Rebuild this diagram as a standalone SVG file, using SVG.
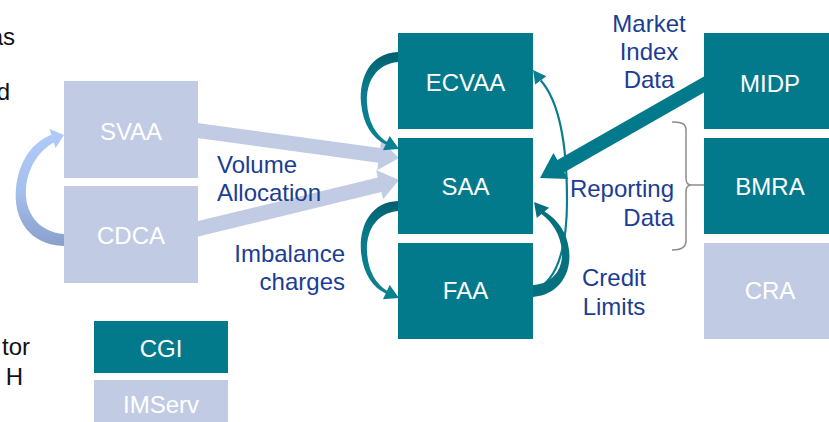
<svg xmlns="http://www.w3.org/2000/svg" width="829" height="422" viewBox="0 0 829 422">
<style>
.teal{fill:#037A8B}
.light{fill:#C1CCE4}
.bl{font-family:"Liberation Sans",Arial,sans-serif;font-size:24px;fill:#FFFFFF;text-anchor:middle}
.lab{font-family:"Liberation Sans",Arial,sans-serif;font-size:24px;fill:#1B3D92}
.cut{font-family:"Liberation Sans",Arial,sans-serif;font-size:24px;fill:#111111;text-anchor:end}
.ca{fill:url(#tealg)}
</style>
<defs>
<linearGradient id="tealg" x1="0" y1="0" x2="0" y2="1">
<stop offset="0" stop-color="#005F6E"/>
<stop offset="0.35" stop-color="#0A7A8B"/>
<stop offset="1" stop-color="#0A8191"/>
</linearGradient>
<linearGradient id="blueg" gradientUnits="userSpaceOnUse" x1="0" y1="128" x2="0" y2="246">
<stop offset="0" stop-color="#AFCBFA"/>
<stop offset="0.5" stop-color="#A7C1EE"/>
<stop offset="1" stop-color="#8A9FCC"/>
</linearGradient>
</defs>
<g id="connectors">
<path fill="url(#blueg)" d="M64,246 C30,245 13,220 16,188 C19,160 33,142 51.35,134.8 L49.55,129.1 L64,135 L55.55,148.1 L53.75,142.4 C40,150 28,166 26,188 C24,212 38,232 64,234 Z"/>
<polygon class="light" points="188.1,121.7 380.2,147.9 381.2,140.4 399,158 377.2,170.2 378.2,162.7 186.1,136.6"/>
<polygon class="light" points="185.5,224.1 377.8,177.4 376.1,170.1 399,180 383.1,199.3 381.4,192.0 189.1,238.7"/>
<path class="ca" d="M398,52 C370,53 359,78 361,103 C363,124 372,138 385.7,144.5 L382.9,150.3 L399,149 L389.7,135.9 L386.9,141.7 C376,135 368,122 367,103 C366,82 376,64 398,62 Z"/>
<path class="ca" transform="translate(0,149)" d="M398,52 C370,53 359,78 361,103 C363,124 372,138 385.7,144.5 L382.9,150.3 L399,149 L389.7,135.9 L386.9,141.7 C376,135 368,122 367,103 C366,82 376,64 398,62 Z"/>
<path fill="none" stroke="#0A7D8E" stroke-width="2.2" d="M533,291 C557,282 567,250 567,200 C567,140 558,100 540.8,80.4"/>
<polygon fill="#0A7D8E" points="533,70 546.4,76.2 535.2,84.6"/>
<path fill="#06707F" d="M533,297 C560,295 572,272 569,250 C567,232 558,220 544.5,211.5 L549.1,207.7 L534,202 L536.8,217.9 L541.5,214.1 C552,222 561,235 562,252 C563,270 552,284 533,285 Z"/>
<polygon fill="#037A8B" points="709.2,73.4 557.4,160.0 553.4,153.1 540,178 568.3,179.1 564.3,172.2 716.2,85.6"/>
<path fill="none" stroke="#8C8C8C" stroke-width="1.5" d="M672,122 Q686,121 686,130 L686,178 Q686,185 691,185 Q686,185 686,192 L686,241 Q686,250 672,250 M691,185 L704,185"/>
</g>
<g id="svaa"><rect class="light" x="64" y="81" width="134" height="97"/><text class="bl" x="131" y="140">SVAA</text></g>
<g id="cdca"><rect class="light" x="64" y="186" width="134" height="97"/><text class="bl" x="131" y="244">CDCA</text></g>
<g id="ecvaa"><rect class="teal" x="398" y="33" width="135" height="96"/><text class="bl" x="465.5" y="91">ECVAA</text></g>
<g id="saa"><rect class="teal" x="398" y="138" width="135" height="96"/><text class="bl" x="465.5" y="195">SAA</text></g>
<g id="faa"><rect class="teal" x="398" y="243" width="135" height="96"/><text class="bl" x="465.5" y="299">FAA</text></g>
<g id="midp"><rect class="teal" x="704" y="33" width="132" height="96"/><text class="bl" x="770" y="92">MIDP</text></g>
<g id="bmra"><rect class="teal" x="704" y="138" width="132" height="96"/><text class="bl" x="770" y="195">BMRA</text></g>
<g id="cra"><rect class="light" x="704" y="243" width="132" height="96"/><text class="bl" x="770" y="299">CRA</text></g>
<g id="cgi"><rect class="teal" x="94" y="321" width="134" height="52"/><text class="bl" x="161" y="357">CGI</text></g>
<g id="imserv"><rect class="light" x="94" y="380" width="134" height="42"/><text class="bl" x="161" y="413">IMServ</text></g>
<g id="labels">
<text class="lab" text-anchor="middle" x="649" y="32">Market</text>
<text class="lab" text-anchor="middle" x="649" y="60">Index</text>
<text class="lab" text-anchor="middle" x="649" y="88">Data</text>
<text class="lab" text-anchor="end" x="674" y="197">Reporting</text>
<text class="lab" text-anchor="end" x="674" y="226">Data</text>
<text class="lab" text-anchor="middle" x="614" y="286">Credit</text>
<text class="lab" text-anchor="middle" x="614" y="315">Limits</text>
<text class="lab" x="217" y="173">Volume</text>
<text class="lab" x="217" y="201">Allocation</text>
<text class="lab" text-anchor="end" x="345" y="262">Imbalance</text>
<text class="lab" text-anchor="end" x="345" y="290">charges</text>
<text class="cut" x="15" y="45">as</text>
<text class="cut" x="10" y="100">d</text>
<text class="cut" x="30" y="355">tor</text>
<text class="cut" x="23" y="385">H</text>
</g>
</svg>
